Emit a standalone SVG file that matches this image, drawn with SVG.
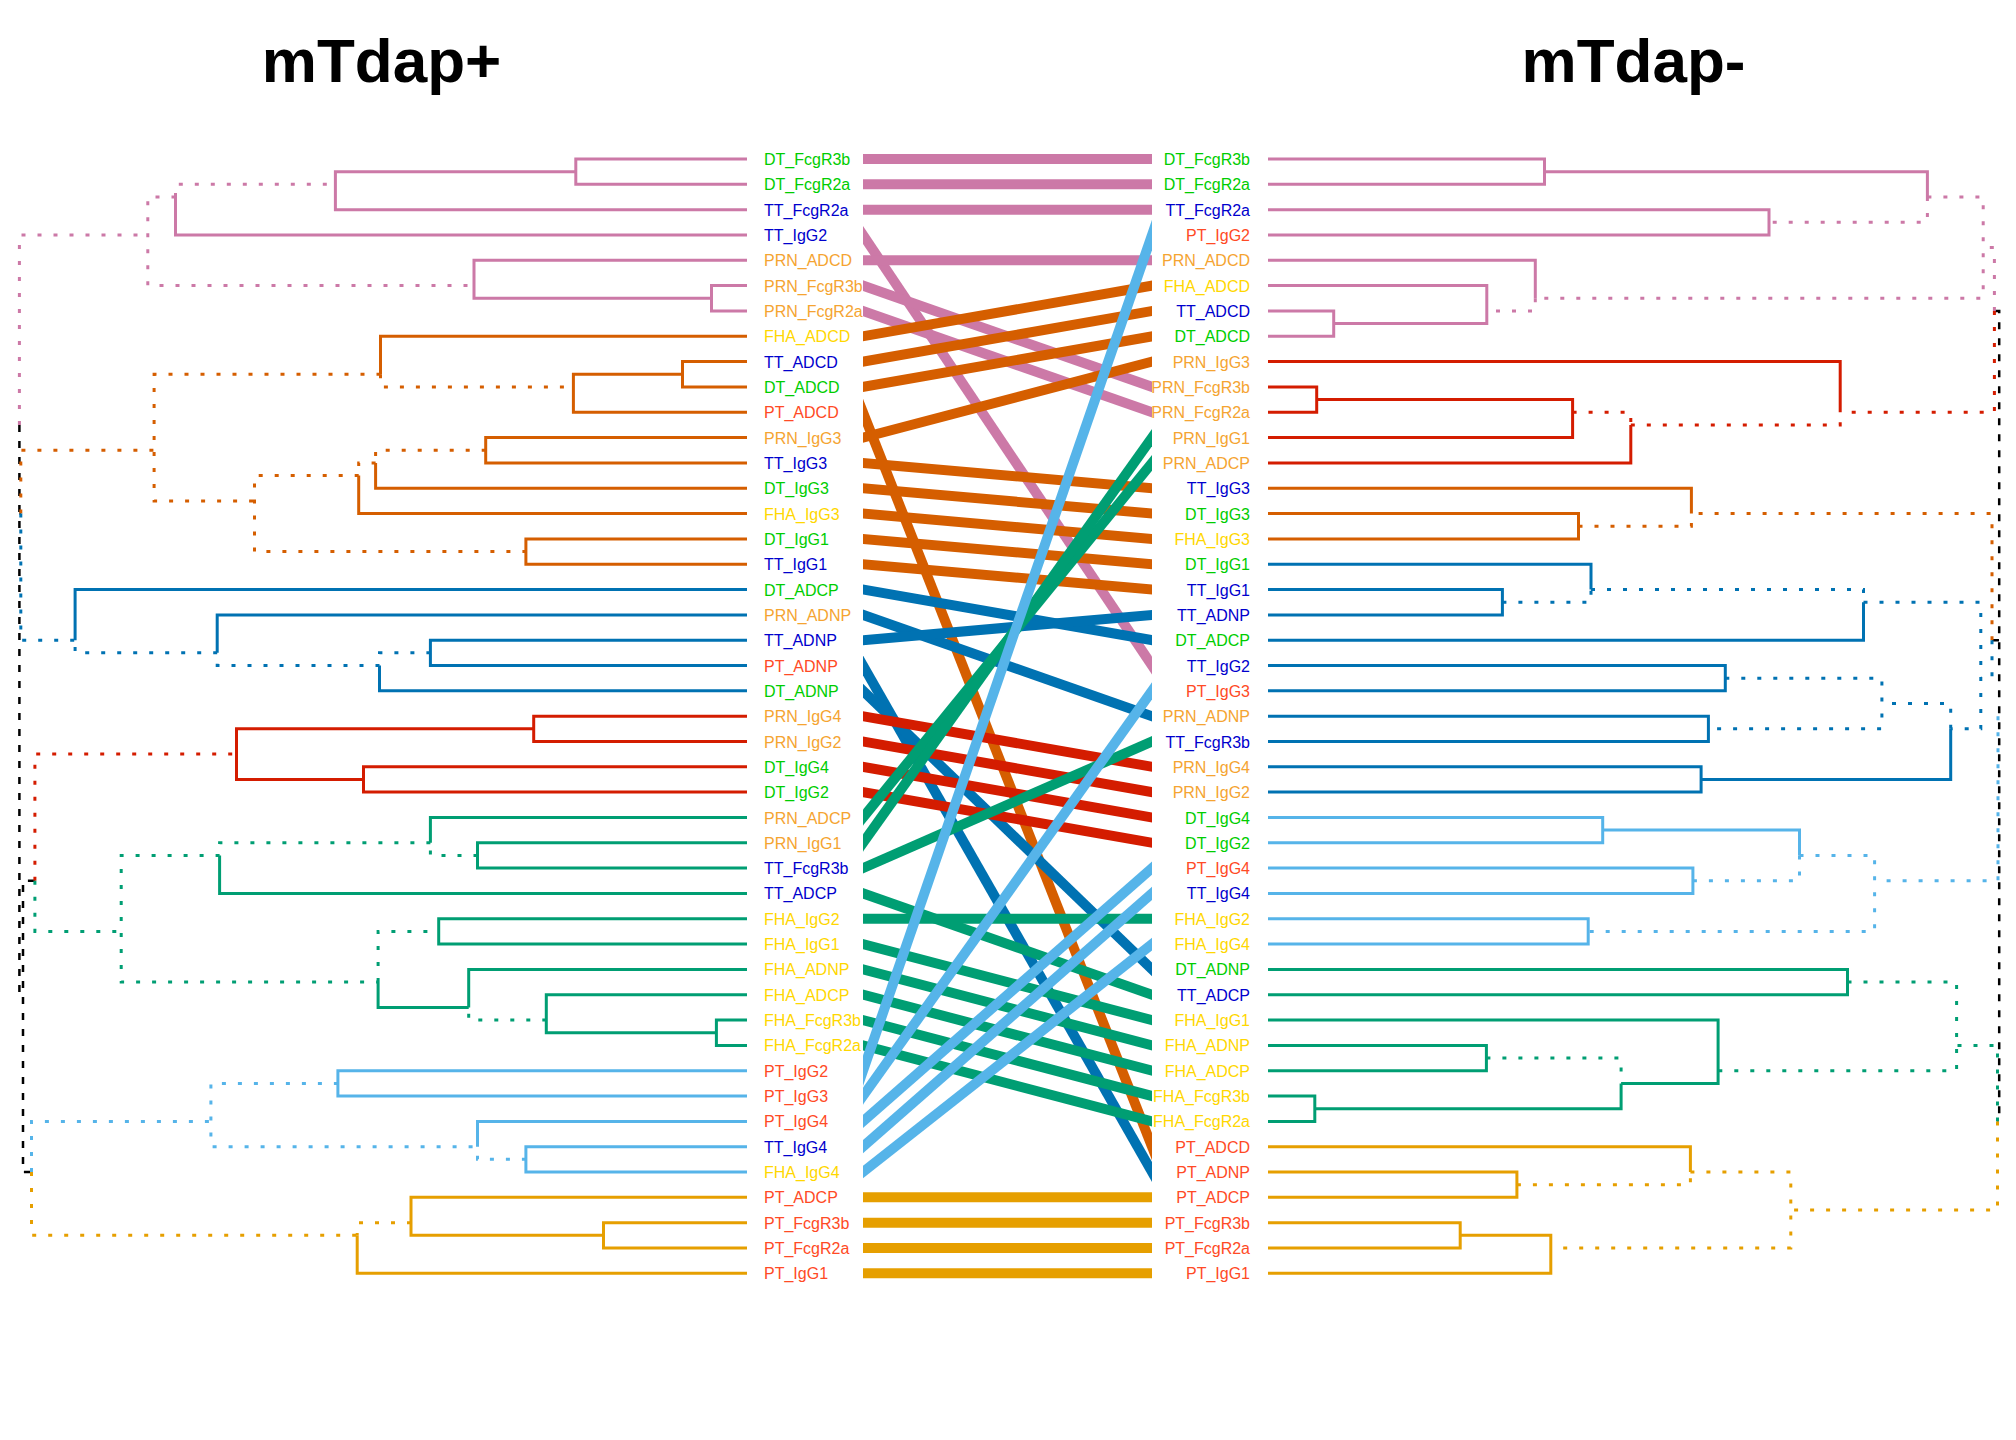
<svg xmlns="http://www.w3.org/2000/svg" width="2016" height="1440" viewBox="0 0 2016 1440">
<defs>
<style>
.s{fill:none;stroke-width:3}
.d{fill:none;stroke-width:3;stroke-dasharray:4 12}
.k{fill:none;stroke:#000;stroke-width:2.5;stroke-dasharray:7 9}
.pk{stroke:#CC79A7}.do{stroke:#D55E00}.bl{stroke:#0072B2}.rd{stroke:#D41C00}.gn{stroke:#009E73}.lb{stroke:#56B4E9}.or{stroke:#E69F00}
.c line{stroke-width:10;stroke-linecap:butt}
.t{font-family:"Liberation Sans",Arial,sans-serif;font-size:16px}
.L{text-anchor:start}.R{text-anchor:end}
.DT{fill:#00CD00}.TT{fill:#0000CD}.PT{fill:#FF4A25}.PRN{fill:#F5A431}.FHA{fill:#FFD700}
.title{font-family:"Liberation Sans",Arial,sans-serif;font-size:62px;font-weight:bold;fill:#000;text-anchor:middle}
</style>
<clipPath id="mid"><rect x="863" y="0" width="289" height="1440"/></clipPath>
</defs>
<rect width="2016" height="1440" fill="#fff"/>
<text class="title" x="381.5" y="81.7">mTdap+</text>
<text class="title" x="1633.5" y="81.7">mTdap-</text>

<g id="tree-left">
<path class="k" d="M19.4 424.9 V994.7 H23 M19.4 513.6 H20.8 M34.9 880.8 H23 V1172 H31.5"/>
<path class="s pk" d="M747 159 H575.8 V184.3 H747 M575.8 171.7 H335.4 V209.7 H747 M175.5 197 V235 H747 M747 260.3 H474 V298.3 H711.5 M747 285.6 H711.5 V311 H747"/>
<path class="d pk" d="M175.5 197 V184.3 H335.4 M175.5 197 H147.8 V285.6 H474 M19.4 424.9 V235 H147.8"/>
<path class="s do" d="M747 361.6 H682.5 V386.9 H747 M682.5 374.3 H573.4 V412.3 H747 M747 336.3 H380.5 V374.3 M747 437.6 H485.7 V462.9 H747 M375.6 462.9 V488.2 H747 M358.7 475.6 V513.6 H747 M747 538.9 H525.9 V564.2 H747"/>
<path class="d do" d="M380.5 374.3 V386.9 H573.4 M380.5 374.3 H154.1 V500.9 H254.5 M485.7 450.2 H375.6 V462.9 M375.6 462.9 H358.7 V475.6 M358.7 475.6 H254.5 V551.5 H525.9 M20.8 513.6 V450.2 H154.1"/>
<path class="s bl" d="M747 640.2 H430.4 V665.5 H747 M379.5 665.5 V690.8 H747 M217.2 652.8 V614.9 H747 M75.1 640.2 V589.5 H747"/>
<path class="d bl" d="M430.4 652.8 H379.5 V665.5 M379.5 665.5 H217.2 V652.8 M217.2 652.8 H75.1 V640.2 M20.8 513.6 V640.2 H75.1"/>
<path class="s rd" d="M747 716.2 H533.7 V741.5 H747 M747 766.8 H363.5 V792.1 H747 M533.7 728.8 H236.5 V779.5 H363.5"/>
<path class="d rd" d="M34.9 880.8 V754.1 H236.5"/>
<path class="s gn" d="M747 842.8 H477.5 V868.1 H747 M430.4 842.8 V817.5 H747 M219.6 855.4 V893.4 H747 M747 918.8 H438.7 V944.1 H747 M747 1020.1 H716.4 V1045.4 H747 M716.4 1032.7 H546.3 V994.7 H747 M468.7 1007.4 V969.4 H747 M468.7 1007.4 H378.1 V982.1"/>
<path class="d gn" d="M477.5 855.4 H430.4 V842.8 M430.4 842.8 H219.6 V855.4 M546.3 1020.1 H468.7 V1007.4 M378.1 982.1 V931.4 H438.7 M219.6 855.4 H121.2 V982.1 H378.1 M34.9 880.8 V931.4 H121.2"/>
<path class="s lb" d="M747 1070.7 H337.9 V1096 H747 M747 1146.7 H525.9 V1172 H747 M477.5 1146.7 V1121.4 H747"/>
<path class="d lb" d="M525.9 1159.3 H477.5 V1146.7 M337.9 1083.4 H210.9 V1146.7 H477.5 M31.5 1172 V1121.4 H210.9"/>
<path class="s or" d="M747 1222.7 H603.5 V1248 H747 M747 1197.3 H411 V1235.3 H603.5 M357.2 1235.3 V1273.3 H747"/>
<path class="d or" d="M411 1222.7 H357.2 V1235.3 M31.5 1172 V1235.3 H357.2"/>
</g>

<g id="tree-right">
<path class="k" d="M1994.4 311 H1999.2 V1121.4 H1997.5 M1992 640.2 H1999.2"/>
<path class="s pk" d="M1268 159 H1544.5 V184.3 H1268 M1544.5 171.7 H1927.4 V197 M1268 209.7 H1769 V235 H1268 M1268 311 H1333.7 V336.3 H1268 M1333.7 323.6 H1486.8 V285.6 H1268 M1268 260.3 H1535.3 V298.3"/>
<path class="d pk" d="M1927.4 197 V222.3 H1769 M1535.3 298.3 V311 H1486.8 M1927.4 197 H1983.2 V298.3 H1535.3 M1994.4 311 V247.6 H1983.2"/>
<path class="s rd" d="M1268 386.9 H1316.7 V412.3 H1268 M1316.7 399.6 H1572.6 V437.6 H1268 M1630.8 424.9 V462.9 H1268 M1840.2 412.3 V361.6 H1268"/>
<path class="d rd" d="M1572.6 412.3 H1630.8 V424.9 M1630.8 424.9 H1840.2 V412.3 M1994.4 311 V412.3 H1840.2"/>
<path class="s do" d="M1268 513.6 H1578.5 V538.9 H1268 M1691.4 513.6 V488.2 H1268"/>
<path class="d do" d="M1578.5 526.2 H1691.4 V513.6 M1992 640.2 V513.6 H1691.4"/>
<path class="s bl" d="M1268 589.5 H1502.4 V614.9 H1268 M1591 589.5 V564.2 H1268 M1863.5 602.2 V640.2 H1268 M1268 665.5 H1725.3 V690.8 H1268 M1268 716.2 H1708.4 V741.5 H1268 M1268 766.8 H1701.1 V792.1 H1268 M1701.1 779.5 H1950.7 V728.8"/>
<path class="d bl" d="M1502.4 602.2 H1591 V589.5 M1591 589.5 H1863.5 V602.2 M1725.3 678.2 H1881.9 V728.8 H1708.4 M1950.7 728.8 V703.5 H1881.9 M1863.5 602.2 H1980.8 V728.8 H1950.7 M1992 640.2 V678.2 H1980.8"/>
<path class="s lb" d="M1268 817.5 H1602.7 V842.8 H1268 M1602.7 830.1 H1799.5 V855.4 M1268 868.1 H1692.9 V893.4 H1268 M1268 918.8 H1588.2 V944.1 H1268"/>
<path class="d lb" d="M1799.5 855.4 V880.8 H1692.9 M1799.5 855.4 H1874.6 V931.4 H1588.2 M1998 716.2 V880.8 H1874.6"/>
<path class="s gn" d="M1268 969.4 H1847.5 V994.7 H1268 M1268 1045.4 H1486.4 V1070.7 H1268 M1268 1096 H1314.8 V1121.4 H1268 M1314.8 1108.7 H1621.1 V1083.4 M1268 1020.1 H1718.1 V1083.4 H1621.1"/>
<path class="d gn" d="M1486.4 1058.1 H1621.1 V1083.4 M1847.5 982.1 H1956.6 V1070.7 H1718.1 M1997.5 1121.4 V1045.4 H1956.6"/>
<path class="s or" d="M1268 1172 H1516.9 V1197.3 H1268 M1690.4 1172 V1146.7 H1268 M1268 1222.7 H1460.2 V1248 H1268 M1460.2 1235.3 H1550.8 V1273.3 H1268"/>
<path class="d or" d="M1516.9 1184.7 H1690.4 V1172 M1690.4 1172 H1790.8 V1248 H1550.8 M1997.5 1121.4 V1210 H1790.8"/>
</g>

<g id="connectors" class="c" clip-path="url(#mid)">
<line class="pk" x1="843" y1="159" x2="1172" y2="159"/>
<line class="pk" x1="843" y1="184.3" x2="1172" y2="184.3"/>
<line class="pk" x1="843" y1="209.7" x2="1172" y2="209.7"/>
<line class="pk" x1="843" y1="205.2" x2="1172" y2="695.3"/>
<line class="pk" x1="843" y1="260.3" x2="1172" y2="260.3"/>
<line class="pk" x1="843" y1="278.6" x2="1172" y2="393.9"/>
<line class="pk" x1="843" y1="304" x2="1172" y2="419.3"/>
<line class="do" x1="843" y1="339.8" x2="1172" y2="282.1"/>
<line class="do" x1="843" y1="365.1" x2="1172" y2="307.5"/>
<line class="do" x1="843" y1="390.4" x2="1172" y2="332.8"/>
<line class="do" x1="843" y1="361.5" x2="1172" y2="1197.5"/>
<line class="do" x1="843" y1="442.9" x2="1172" y2="356.3"/>
<line class="do" x1="843" y1="461.15" x2="1172" y2="489.95"/>
<line class="do" x1="843" y1="486.45" x2="1172" y2="515.35"/>
<line class="do" x1="843" y1="511.85" x2="1172" y2="540.65"/>
<line class="do" x1="843" y1="537.15" x2="1172" y2="565.95"/>
<line class="do" x1="843" y1="562.45" x2="1172" y2="591.25"/>
<line class="bl" x1="843" y1="586" x2="1172" y2="643.7"/>
<line class="bl" x1="843" y1="607.9" x2="1172" y2="723.2"/>
<line class="bl" x1="843" y1="641.95" x2="1172" y2="613.15"/>
<line class="bl" x1="843" y1="630.45" x2="1172" y2="1207.05"/>
<line class="bl" x1="843" y1="671.5" x2="1172" y2="988.7"/>
<line class="rd" x1="843" y1="712.7" x2="1172" y2="770.3"/>
<line class="rd" x1="843" y1="738" x2="1172" y2="795.6"/>
<line class="rd" x1="843" y1="763.3" x2="1172" y2="821"/>
<line class="rd" x1="843" y1="788.6" x2="1172" y2="846.3"/>
<line class="gn" x1="843" y1="842.04" x2="1172" y2="438.36"/>
<line class="gn" x1="843" y1="870.84" x2="1172" y2="409.56"/>
<line class="gn" x1="843" y1="876.86" x2="1172" y2="732.74"/>
<line class="gn" x1="843" y1="886.39" x2="1172" y2="1001.71"/>
<line class="gn" x1="843" y1="918.8" x2="1172" y2="918.8"/>
<line class="gn" x1="843" y1="938.84" x2="1172" y2="1025.36"/>
<line class="gn" x1="843" y1="964.14" x2="1172" y2="1050.66"/>
<line class="gn" x1="843" y1="989.44" x2="1172" y2="1075.96"/>
<line class="gn" x1="843" y1="1014.84" x2="1172" y2="1101.26"/>
<line class="gn" x1="843" y1="1040.14" x2="1172" y2="1126.66"/>
<line class="lb" x1="843" y1="1128.53" x2="1172" y2="177.17"/>
<line class="lb" x1="843" y1="1124.04" x2="1172" y2="662.76"/>
<line class="lb" x1="843" y1="1138.93" x2="1172" y2="850.57"/>
<line class="lb" x1="843" y1="1164.23" x2="1172" y2="875.87"/>
<line class="lb" x1="843" y1="1187.77" x2="1172" y2="928.33"/>
<line class="or" x1="843" y1="1197.3" x2="1172" y2="1197.3"/>
<line class="or" x1="843" y1="1222.7" x2="1172" y2="1222.7"/>
<line class="or" x1="843" y1="1248" x2="1172" y2="1248"/>
<line class="or" x1="843" y1="1273.3" x2="1172" y2="1273.3"/>
</g>

<g id="labels-left" class="t L">
<g id="l-DT_FcgR3b"><text class="DT" x="764" y="165">DT_FcgR3b</text></g>
<g id="l-DT_FcgR2a"><text class="DT" x="764" y="190.3">DT_FcgR2a</text></g>
<g id="l-TT_FcgR2a"><text class="TT" x="764" y="215.7">TT_FcgR2a</text></g>
<g id="l-TT_IgG2"><text class="TT" x="764" y="241">TT_IgG2</text></g>
<g id="l-PRN_ADCD"><text class="PRN" x="764" y="266.3">PRN_ADCD</text></g>
<g id="l-PRN_FcgR3b"><text class="PRN" x="764" y="291.6">PRN_FcgR3b</text></g>
<g id="l-PRN_FcgR2a"><text class="PRN" x="764" y="317">PRN_FcgR2a</text></g>
<g id="l-FHA_ADCD"><text class="FHA" x="764" y="342.3">FHA_ADCD</text></g>
<g id="l-TT_ADCD"><text class="TT" x="764" y="367.6">TT_ADCD</text></g>
<g id="l-DT_ADCD"><text class="DT" x="764" y="392.9">DT_ADCD</text></g>
<g id="l-PT_ADCD"><text class="PT" x="764" y="418.3">PT_ADCD</text></g>
<g id="l-PRN_IgG3"><text class="PRN" x="764" y="443.6">PRN_IgG3</text></g>
<g id="l-TT_IgG3"><text class="TT" x="764" y="468.9">TT_IgG3</text></g>
<g id="l-DT_IgG3"><text class="DT" x="764" y="494.2">DT_IgG3</text></g>
<g id="l-FHA_IgG3"><text class="FHA" x="764" y="519.6">FHA_IgG3</text></g>
<g id="l-DT_IgG1"><text class="DT" x="764" y="544.9">DT_IgG1</text></g>
<g id="l-TT_IgG1"><text class="TT" x="764" y="570.2">TT_IgG1</text></g>
<g id="l-DT_ADCP"><text class="DT" x="764" y="595.5">DT_ADCP</text></g>
<g id="l-PRN_ADNP"><text class="PRN" x="764" y="620.9">PRN_ADNP</text></g>
<g id="l-TT_ADNP"><text class="TT" x="764" y="646.2">TT_ADNP</text></g>
<g id="l-PT_ADNP"><text class="PT" x="764" y="671.5">PT_ADNP</text></g>
<g id="l-DT_ADNP"><text class="DT" x="764" y="696.8">DT_ADNP</text></g>
<g id="l-PRN_IgG4"><text class="PRN" x="764" y="722.2">PRN_IgG4</text></g>
<g id="l-PRN_IgG2"><text class="PRN" x="764" y="747.5">PRN_IgG2</text></g>
<g id="l-DT_IgG4"><text class="DT" x="764" y="772.8">DT_IgG4</text></g>
<g id="l-DT_IgG2"><text class="DT" x="764" y="798.1">DT_IgG2</text></g>
<g id="l-PRN_ADCP"><text class="PRN" x="764" y="823.5">PRN_ADCP</text></g>
<g id="l-PRN_IgG1"><text class="PRN" x="764" y="848.8">PRN_IgG1</text></g>
<g id="l-TT_FcgR3b"><text class="TT" x="764" y="874.1">TT_FcgR3b</text></g>
<g id="l-TT_ADCP"><text class="TT" x="764" y="899.4">TT_ADCP</text></g>
<g id="l-FHA_IgG2"><text class="FHA" x="764" y="924.8">FHA_IgG2</text></g>
<g id="l-FHA_IgG1"><text class="FHA" x="764" y="950.1">FHA_IgG1</text></g>
<g id="l-FHA_ADNP"><text class="FHA" x="764" y="975.4">FHA_ADNP</text></g>
<g id="l-FHA_ADCP"><text class="FHA" x="764" y="1000.7">FHA_ADCP</text></g>
<g id="l-FHA_FcgR3b"><text class="FHA" x="764" y="1026.1">FHA_FcgR3b</text></g>
<g id="l-FHA_FcgR2a"><text class="FHA" x="764" y="1051.4">FHA_FcgR2a</text></g>
<g id="l-PT_IgG2"><text class="PT" x="764" y="1076.7">PT_IgG2</text></g>
<g id="l-PT_IgG3"><text class="PT" x="764" y="1102">PT_IgG3</text></g>
<g id="l-PT_IgG4"><text class="PT" x="764" y="1127.4">PT_IgG4</text></g>
<g id="l-TT_IgG4"><text class="TT" x="764" y="1152.7">TT_IgG4</text></g>
<g id="l-FHA_IgG4"><text class="FHA" x="764" y="1178">FHA_IgG4</text></g>
<g id="l-PT_ADCP"><text class="PT" x="764" y="1203.3">PT_ADCP</text></g>
<g id="l-PT_FcgR3b"><text class="PT" x="764" y="1228.7">PT_FcgR3b</text></g>
<g id="l-PT_FcgR2a"><text class="PT" x="764" y="1254">PT_FcgR2a</text></g>
<g id="l-PT_IgG1"><text class="PT" x="764" y="1279.3">PT_IgG1</text></g>
</g>

<g id="labels-right" class="t R">
<g id="r-DT_FcgR3b"><text class="DT" x="1250" y="165">DT_FcgR3b</text></g>
<g id="r-DT_FcgR2a"><text class="DT" x="1250" y="190.3">DT_FcgR2a</text></g>
<g id="r-TT_FcgR2a"><text class="TT" x="1250" y="215.7">TT_FcgR2a</text></g>
<g id="r-PT_IgG2"><text class="PT" x="1250" y="241">PT_IgG2</text></g>
<g id="r-PRN_ADCD"><text class="PRN" x="1250" y="266.3">PRN_ADCD</text></g>
<g id="r-FHA_ADCD"><text class="FHA" x="1250" y="291.6">FHA_ADCD</text></g>
<g id="r-TT_ADCD"><text class="TT" x="1250" y="317">TT_ADCD</text></g>
<g id="r-DT_ADCD"><text class="DT" x="1250" y="342.3">DT_ADCD</text></g>
<g id="r-PRN_IgG3"><text class="PRN" x="1250" y="367.6">PRN_IgG3</text></g>
<g id="r-PRN_FcgR3b"><text class="PRN" x="1250" y="392.9">PRN_FcgR3b</text></g>
<g id="r-PRN_FcgR2a"><text class="PRN" x="1250" y="418.3">PRN_FcgR2a</text></g>
<g id="r-PRN_IgG1"><text class="PRN" x="1250" y="443.6">PRN_IgG1</text></g>
<g id="r-PRN_ADCP"><text class="PRN" x="1250" y="468.9">PRN_ADCP</text></g>
<g id="r-TT_IgG3"><text class="TT" x="1250" y="494.2">TT_IgG3</text></g>
<g id="r-DT_IgG3"><text class="DT" x="1250" y="519.6">DT_IgG3</text></g>
<g id="r-FHA_IgG3"><text class="FHA" x="1250" y="544.9">FHA_IgG3</text></g>
<g id="r-DT_IgG1"><text class="DT" x="1250" y="570.2">DT_IgG1</text></g>
<g id="r-TT_IgG1"><text class="TT" x="1250" y="595.5">TT_IgG1</text></g>
<g id="r-TT_ADNP"><text class="TT" x="1250" y="620.9">TT_ADNP</text></g>
<g id="r-DT_ADCP"><text class="DT" x="1250" y="646.2">DT_ADCP</text></g>
<g id="r-TT_IgG2"><text class="TT" x="1250" y="671.5">TT_IgG2</text></g>
<g id="r-PT_IgG3"><text class="PT" x="1250" y="696.8">PT_IgG3</text></g>
<g id="r-PRN_ADNP"><text class="PRN" x="1250" y="722.2">PRN_ADNP</text></g>
<g id="r-TT_FcgR3b"><text class="TT" x="1250" y="747.5">TT_FcgR3b</text></g>
<g id="r-PRN_IgG4"><text class="PRN" x="1250" y="772.8">PRN_IgG4</text></g>
<g id="r-PRN_IgG2"><text class="PRN" x="1250" y="798.1">PRN_IgG2</text></g>
<g id="r-DT_IgG4"><text class="DT" x="1250" y="823.5">DT_IgG4</text></g>
<g id="r-DT_IgG2"><text class="DT" x="1250" y="848.8">DT_IgG2</text></g>
<g id="r-PT_IgG4"><text class="PT" x="1250" y="874.1">PT_IgG4</text></g>
<g id="r-TT_IgG4"><text class="TT" x="1250" y="899.4">TT_IgG4</text></g>
<g id="r-FHA_IgG2"><text class="FHA" x="1250" y="924.8">FHA_IgG2</text></g>
<g id="r-FHA_IgG4"><text class="FHA" x="1250" y="950.1">FHA_IgG4</text></g>
<g id="r-DT_ADNP"><text class="DT" x="1250" y="975.4">DT_ADNP</text></g>
<g id="r-TT_ADCP"><text class="TT" x="1250" y="1000.7">TT_ADCP</text></g>
<g id="r-FHA_IgG1"><text class="FHA" x="1250" y="1026.1">FHA_IgG1</text></g>
<g id="r-FHA_ADNP"><text class="FHA" x="1250" y="1051.4">FHA_ADNP</text></g>
<g id="r-FHA_ADCP"><text class="FHA" x="1250" y="1076.7">FHA_ADCP</text></g>
<g id="r-FHA_FcgR3b"><text class="FHA" x="1250" y="1102">FHA_FcgR3b</text></g>
<g id="r-FHA_FcgR2a"><text class="FHA" x="1250" y="1127.4">FHA_FcgR2a</text></g>
<g id="r-PT_ADCD"><text class="PT" x="1250" y="1152.7">PT_ADCD</text></g>
<g id="r-PT_ADNP"><text class="PT" x="1250" y="1178">PT_ADNP</text></g>
<g id="r-PT_ADCP"><text class="PT" x="1250" y="1203.3">PT_ADCP</text></g>
<g id="r-PT_FcgR3b"><text class="PT" x="1250" y="1228.7">PT_FcgR3b</text></g>
<g id="r-PT_FcgR2a"><text class="PT" x="1250" y="1254">PT_FcgR2a</text></g>
<g id="r-PT_IgG1"><text class="PT" x="1250" y="1279.3">PT_IgG1</text></g>
</g>
</svg>
